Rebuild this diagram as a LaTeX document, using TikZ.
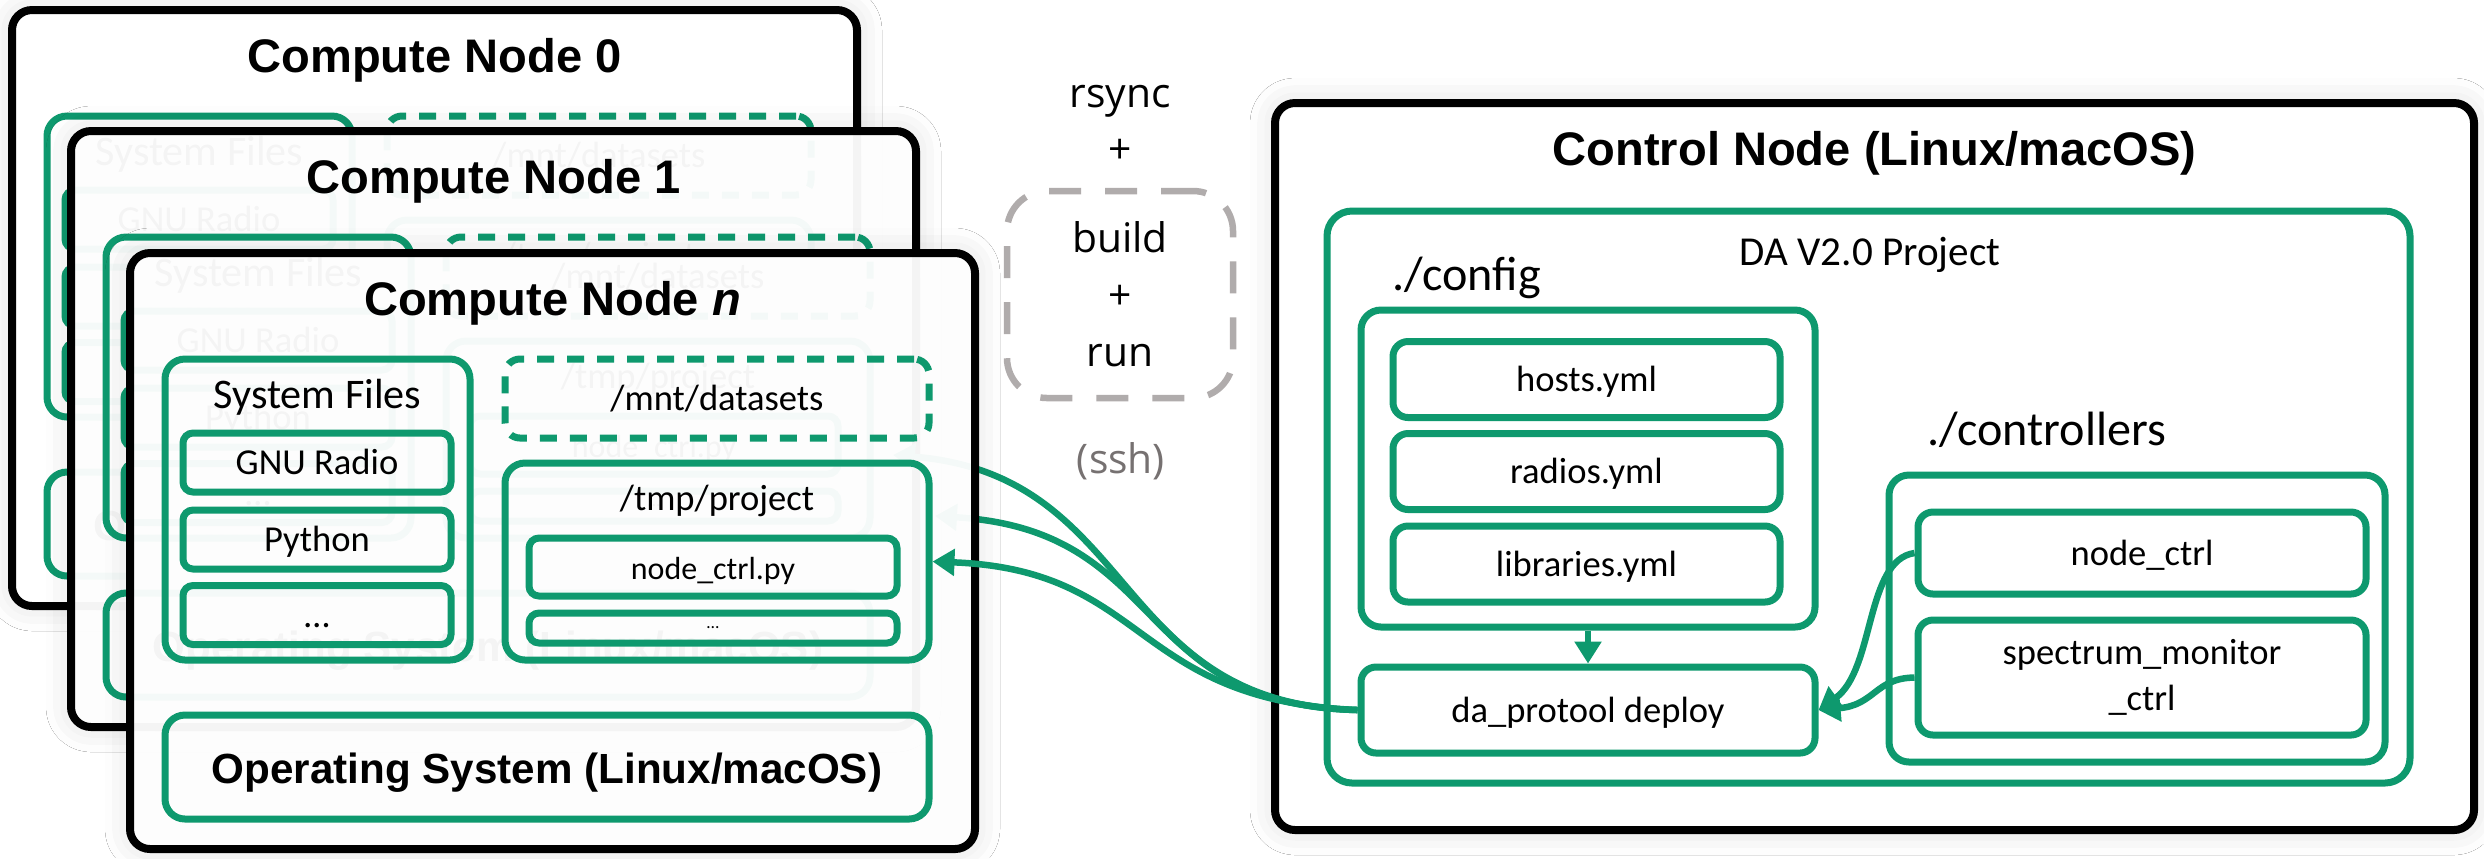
\documentclass[tikz,border=0pt]{standalone}
\usepackage{fontspec}
\setmainfont{Carlito}
\newfontfamily\headfont{Liberation Sans}
\newfontfamily\stepfont{Open Sans}
\usetikzlibrary{arrows.meta,shadows.blur}

\definecolor{dagreen}{RGB}{14,153,110}
\definecolor{stepgray}{RGB}{176,172,172}
\definecolor{sshgray}{RGB}{118,113,113}

\tikzset{
  glow/.style={blur shadow={shadow xshift=0pt, shadow yshift=0pt,
      shadow blur radius=2.5mm, shadow opacity=14}},
  cnode/.style={draw=black, line width=0.8mm, rounded corners=2mm, fill=white, glow,
    minimum width=84.5mm, minimum height=59.6mm},
  ctitle/.style={font=\headfont\bfseries\fontsize{13.4}{16}\selectfont},
  gbox/.style={draw=dagreen, line width=0.7mm, rounded corners=1mm, inner sep=1pt,
    font=\fontsize{10.4}{13}\selectfont},
  tbox/.style={gbox, text height=0.7em, text depth=0pt},
  flabel/.style={font=\fontsize{10.4}{13}\selectfont},
  dirlabel/.style={font=\fontsize{13.7}{16}\selectfont},
  steplabel/.style={font=\stepfont\fontsize{11.6}{16.2}\selectfont},
  stepbox/.style={draw=stepgray, line width=0.65mm, dash pattern=on 3.2mm off 2.4mm,
    rounded corners=4mm, align=center, steplabel},
  garrow/.style={draw=dagreen, line width=0.65mm, -{Triangle[length=2.2mm,width=2.6mm]}}
}

% one compute node: shift x, shift y, title, name suffix, fill opacity
\newcommand{\computenode}[5]{%
  \begin{scope}[shift={(#1,#2)}]
    % frame and title
    \node[cnode, fill opacity=#5] (cn#4) at (422.5,298) {};
    \node[ctitle, anchor=base] (title#4) at (422.5,62) {#3};
    % system files
    \node[gbox, rounded corners=2mm, minimum width=30.5mm, minimum height=30.1mm] (sys#4) at (187.5,256.5) {};
    \node[flabel, font=\fontsize{12}{14}\selectfont, anchor=base] (syslbl#4) at (187.5,155) {System Files};
    \foreach \nm/\y/\txt in {gnu/209.5/GNU Radio, py/286.5/Python, more/362/\ldots}
      \node[tbox, minimum width=26.8mm, minimum height=5.9mm] (\nm#4) at (187,\y) {\txt};
    % datasets and project folder
    \node[tbox, rounded corners=1.5mm, dash pattern=on 1.7mm off 1.3mm,
      minimum width=42.4mm, minimum height=7.9mm] (mnt#4) at (587,145.5) {/mnt/datasets};
    \node[gbox, rounded corners=2mm, minimum width=42.4mm, minimum height=19.7mm] (tmp#4) at (587,308.5) {};
    \node[flabel, anchor=base] (tmplbl#4) at (587,257) {/tmp/project};
    \node[tbox, font=\fontsize{9.1}{11}\selectfont, minimum width=36.8mm, minimum height=5.8mm] (ctrlpy#4) at (583,314) {node\_ctrl.py};
    \node[gbox, font=\fontsize{5}{6}\selectfont, minimum width=36.8mm, minimum height=3mm] (ctrlmore#4) at (583,375) {\ldots};
    % operating system
    \node[gbox, rounded corners=2mm, font=\headfont\bfseries\fontsize{12}{14}\selectfont,
      text height=0.95em, text depth=0pt, minimum width=76.4mm, minimum height=10.4mm] (os#4) at (417,514) {Operating System (Linux/macOS)};
  \end{scope}}

\begin{document}
\begin{tikzpicture}[x=0.1mm, y=-0.1mm]
  \fill[white] (0,0) rectangle (2484,858);
  \useasboundingbox (0,0) rectangle (2484,858);

  % Control node
  \node[cnode, minimum width=119.9mm, minimum height=72.7mm] (ctrl) at (1874.5,466.5) {};
  \node[ctitle, anchor=base] (ctrltitle) at (1874.5,165) {Control Node (Linux/macOS)};
  \node[gbox, rounded corners=2.5mm, minimum width=108.3mm, minimum height=57.2mm] (proj) at (1868.5,497) {};
  \node[flabel, font=\fontsize{11.7}{14}\selectfont, anchor=base] (projlbl) at (1870,265) {DA V2.0 Project};

  % ./config
  \node[dirlabel, anchor=base west] (cfglbl) at (1380,290) {./config};
  \node[gbox, rounded corners=2mm, minimum width=45.4mm, minimum height=31.7mm] (config) at (1588,468.5) {};
  \foreach \f/\y in {hosts/379.5, radios/471.5, libraries/564}
    \node[tbox, rounded corners=1.5mm, minimum width=38.7mm, minimum height=7.6mm] (\f) at (1586.5,\y) {\f.yml};
  \node[tbox, rounded corners=1.5mm, minimum width=45.4mm, minimum height=8.6mm] (deploy) at (1588,710) {da\_protool deploy};

  % ./controllers
  \node[dirlabel, anchor=base west] (ctrlslbl) at (1915,445) {./controllers};
  \node[gbox, rounded corners=2mm, minimum width=49.6mm, minimum height=28.7mm] (ctrls) at (2137,618.5) {};
  \node[tbox, rounded corners=1.5mm, minimum width=44.8mm, minimum height=8.2mm] (nodectrl) at (2142,553) {node\_ctrl};
  \node[gbox, rounded corners=1.5mm, align=center, font=\fontsize{10.4}{13}\selectfont,
    minimum width=44.8mm, minimum height=11.5mm] (spectrum) at (2142,677.5) {spectrum\_monitor\\\_ctrl};

  \draw[garrow] (config) -- (deploy);
  \draw[garrow] (nodectrl.west) .. controls (1865,560) and (1875,670) .. (deploy.east);
  \draw[garrow] (spectrum.west) .. controls (1875,678) and (1875,705) .. (deploy.east);

  % rsync + build + run
  \node[steplabel, anchor=base] (rsync) at (1120,107) {rsync};
  \node[steplabel, anchor=base] (plus) at (1120,163) {+};
  \node[stepbox, minimum width=22.6mm, minimum height=20.7mm] (steps) at (1120,294.5) {build\\+\\run};
  \node[steplabel, text=sshgray, anchor=base] (ssh) at (1121,473) {(ssh)};

  % Compute nodes, back to front
  \computenode{12}{10}{Compute Node 0}{0}{1}
  \computenode{71}{131}{Compute Node 1}{1}{0.955}
  \coordinate (tipA) at (893,455);
  \coordinate (tipB) at (935,516);
  \draw[garrow] (deploy.west) .. controls (1110,705) and (1140,475) .. (tipA);
  \draw[garrow] (deploy.west) .. controls (1130,705) and (1170,530) .. (tipB);
  \computenode{130}{253}{Compute Node \textit{n}}{n}{0.955}
  \draw[garrow] (deploy.west) .. controls (1130,700) and (1150,570) .. (tmpn.east);
\end{tikzpicture}
\end{document}
